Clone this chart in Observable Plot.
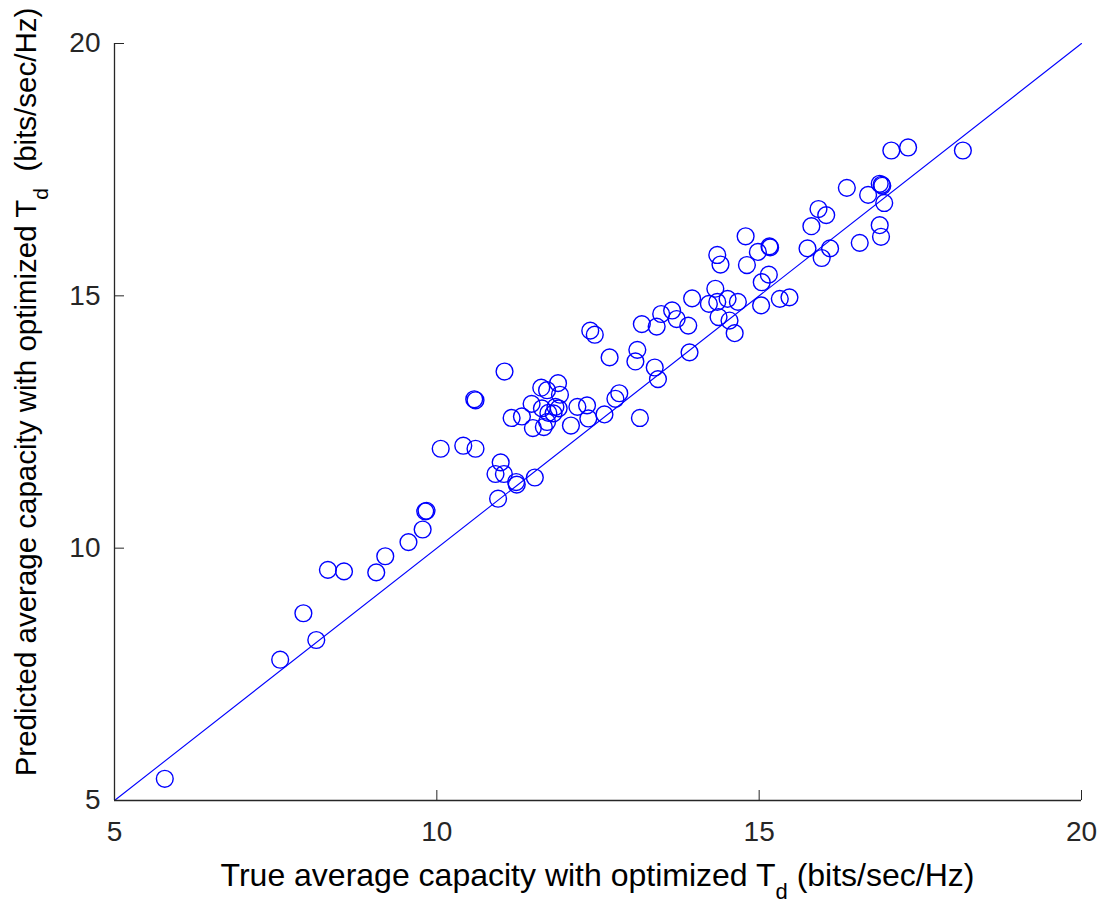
<!DOCTYPE html>
<html>
<head>
<meta charset="utf-8">
<script src="https://cdn.jsdelivr.net/npm/d3@7"></script>
<script src="https://cdn.jsdelivr.net/npm/@observablehq/plot@0.6"></script>
<style>
  html, body { margin: 0; padding: 0; background: #fff; }
  #chart svg { display: block; }
</style>
</head>
<body>
<div id="chart"></div>
<script>
const trueCapacity = [
  5.78, 7.57, 8.13, 7.93, 8.31, 8.56, 9.06, 9.20, 9.56, 9.78,
  9.82, 9.84, 10.06, 10.41, 10.60, 10.58, 10.60, 11.05, 10.99, 10.91,
  11.04, 11.23, 11.24, 10.95, 11.52, 11.16, 11.32, 11.47, 11.49, 11.62,
  11.71, 11.88, 11.91, 11.63, 11.73, 11.71, 11.66, 11.84, 11.89, 11.81,
  12.08, 12.18, 12.33, 12.35, 12.60, 12.77, 12.83, 13.15, 12.68, 13.08,
  13.11, 13.38, 13.43, 13.92, 12.38, 12.45, 14.79, 14.35, 14.40, 14.98,
  15.16, 15.17, 14.81, 15.15, 15.04, 15.32, 15.47, 15.03, 14.32, 14.22,
  14.35, 14.51, 14.67, 14.37, 14.54, 14.62, 13.96, 13.90, 13.65, 13.72,
  13.48, 13.18, 13.41, 17.05, 17.31, 18.16, 16.36, 16.69, 16.87, 16.90,
  16.91, 16.94, 16.87, 16.89, 16.56, 15.92, 16.04, 15.81, 15.75, 16.10,
  15.97
];
const predictedCapacity = [
  5.43, 7.79, 8.18, 8.71, 9.57, 9.54, 9.52, 9.84, 10.12, 10.37,
  10.73, 10.74, 11.97, 12.03, 11.97, 12.95, 12.93, 13.50, 11.70, 11.47,
  11.47, 11.31, 11.26, 10.98, 11.40, 12.58, 12.61, 12.86, 12.38, 13.18,
  13.13, 13.27, 13.04, 12.77, 12.68, 12.50, 12.40, 12.80, 12.77, 12.67,
  12.43, 12.80, 12.83, 12.57, 12.65, 12.96, 13.07, 12.58, 13.78, 13.70,
  13.93, 13.58, 13.35, 13.88, 14.31, 14.23, 16.18, 15.81, 15.62, 15.87,
  15.98, 15.96, 15.61, 15.42, 15.27, 14.94, 14.97, 14.81, 15.14, 14.84,
  14.88, 14.94, 14.88, 14.58, 14.51, 14.26, 14.95, 14.41, 14.71, 14.54,
  14.64, 14.44, 14.39, 17.88, 17.94, 17.88, 17.14, 17.00, 17.22, 17.20,
  17.18, 16.84, 16.40, 16.17, 16.05, 16.72, 16.60, 16.38, 15.94, 15.94,
  15.75
];
const diagonal = [5, 20];
const xTicks = [5, 10, 15, 20];
const yTicks = [5, 10, 15, 20];
const xLabel = ["True average capacity with optimized T", "d", " (bits/sec/Hz)"];
const yLabel = ["Predicted average capacity with optimized T", "d", "  (bits/sec/Hz)"];

const points = trueCapacity.map((x, i) => ({x, y: predictedCapacity[i]}));
const lineData = diagonal.map(v => ({x: v, y: v}));

const W = 1105, H = 907;
const mL = 114, mR = 24, mT = 43, mB = 107;
const frameH = H - mT - mB, frameW = W - mL - mR;
const axisColor = "#262626";
const blue = "#0000ff";
const tickFont = 28;

const plot = Plot.plot({
  width: W,
  height: H,
  marginLeft: mL,
  marginRight: mR,
  marginTop: mT,
  marginBottom: mB,
  style: {background: "#fff", fontFamily: "'Liberation Sans', Arial, sans-serif", fontSize: tickFont + "px"},
  x: {domain: [5, 20], ticks: xTicks},
  y: {domain: [5, 20], ticks: yTicks},
  marks: [
    Plot.line(lineData, {x: "x", y: "y", stroke: blue, strokeWidth: 1.1}),
    Plot.dot(points, {x: "x", y: "y", r: 8.4, stroke: blue, strokeWidth: 1.4, fill: "none"}),
    Plot.tickX(xTicks, {x: d => d, insetTop: frameH - 10, stroke: axisColor, strokeWidth: 1}),
    Plot.tickY(yTicks, {y: d => d, insetRight: frameW - 10, stroke: axisColor, strokeWidth: 1}),
    Plot.ruleX([5], {stroke: axisColor, strokeWidth: 1.3}),
    Plot.ruleY([5], {stroke: axisColor, strokeWidth: 1.3}),
    Plot.axisX({ticks: xTicks, tickSize: 0, tickPadding: 21, label: null, fontSize: tickFont, color: axisColor}),
    Plot.axisY({ticks: yTicks, tickSize: 0, tickPadding: 14, label: null, fontSize: tickFont, color: axisColor})
  ]
});

document.getElementById("chart").appendChild(plot);

const svg = d3.select(plot);
svg.selectAll("text").style("font-size", tickFont + "px").attr("fill", axisColor);

const labelFont = "'Liberation Sans', Arial, sans-serif";

function addLabel(parts, size, attrs) {
  const t = svg.append("text")
    .attr("text-anchor", "middle")
    .attr("fill", "#000")
    .style("font-family", labelFont)
    .style("font-size", size + "px");
  for (const [k, v] of Object.entries(attrs)) t.attr(k, v);
  const sub = Math.round(size * 0.42);
  t.append("tspan").text(parts[0]);
  t.append("tspan").attr("dy", sub).style("font-size", Math.round(size * 0.7) + "px").text(parts[1]);
  t.append("tspan").attr("dy", -sub).text(parts[2]);
  return t;
}

addLabel(xLabel, 32, {x: mL + frameW / 2, y: 886});
addLabel(yLabel, 29.5, {transform: `translate(36, 392) rotate(-90)`});
</script>
</body>
</html>
